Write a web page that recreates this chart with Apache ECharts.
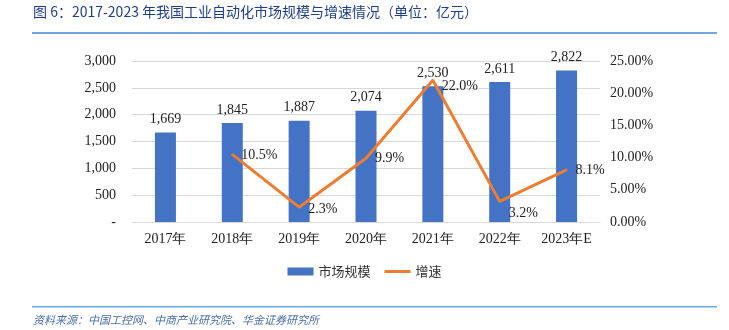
<!DOCTYPE html>
<html><head><meta charset="utf-8">
<script src="https://cdn.jsdelivr.net/npm/echarts@6/dist/echarts.min.js"></script>
<style>html,body{margin:0;padding:0;background:#fff}#c{width:729px;height:330px}</style>
</head><body><div id="c"></div>
<script>
const categories = ['2017年','2018年','2019年','2020年','2021年','2022年','2023年E'];
const marketSize = [1669, 1845, 1887, 2074, 2530, 2611, 2822];
const growth = [null, 10.5, 2.3, 9.9, 22.0, 3.2, 8.1];
const leftTicks = [0, 500, 1000, 1500, 2000, 2500, 3000];
const growthLabelOffsetY = [0, 1, 2, 0, 6, 12, 0];

const chart = echarts.init(document.getElementById('c'));
const serif = '"Liberation Serif", "Times New Roman", serif';
chart.setOption({
  animation: false,
  graphic: [
    {type:'text', left: 33, top: 5, style:{text:'图 6：2017-2023 年我国工业自动化市场规模与增速情况（单位：亿元）', font:'14px "Noto Sans CJK SC", sans-serif', fill:'#1f3f8a'}},
    {type:'rect', shape:{x:32, y:32, width:685, height:2}, style:{fill:'#6fa8dc'}},
    {type:'rect', shape:{x:32, y:306, width:685, height:1.5}, style:{fill:'#6fa8dc'}},
    {type:'text', left: 33, top: 314, style:{text:'资料来源：中国工控网、中商产业研究院、华金证券研究所', font:'italic 11px "Noto Sans CJK SC", sans-serif', fill:'#4a6ea8'}}
  ],
  grid: {left: 132, right: 129, top: 61, bottom: 108},
  legend: {
    bottom: 47, left: 'center', itemWidth: 26, itemHeight: 8, itemGap: 14,
    textStyle: {fontFamily: '"Noto Sans CJK SC", sans-serif', fontSize: 13, color: '#333'},
    data: [{name:'市场规模', icon:'rect'},
           {name:'增速', icon:'path://M0,0h26v3h-26z', itemStyle:{color:'#ed7d31', opacity:1}}]
  },
  xAxis: {
    type: 'category', data: categories,
    axisLine: {lineStyle: {color: '#d9d9d9'}}, axisTick: {show: false},
    axisLabel: {fontFamily: serif, fontSize: 14, color: '#222', margin: 10}
  },
  yAxis: [
    {type: 'value', min: 0, max: 3000, interval: 500,
     axisLine: {show: false}, axisTick: {show: false},
     splitLine: {lineStyle: {color: '#d9d9d9'}},
     axisLabel: {fontFamily: serif, fontSize: 14, color: '#222', margin: 16,
       formatter: v => v === 0 ? '-' : v.toLocaleString('en-US')}},
    {type: 'value', min: 0, max: 25, interval: 5,
     axisLine: {show: false}, axisTick: {show: false}, splitLine: {show: false},
     axisLabel: {fontFamily: serif, fontSize: 14, color: '#222', margin: 10,
       formatter: v => v.toFixed(2) + '%'}}
  ],
  series: [
    {name: '市场规模', type: 'bar', data: marketSize, barWidth: 21,
     itemStyle: {color: '#4472c4'},
     label: {show: true, position: 'top', distance: 6, fontFamily: serif, fontSize: 14, color: '#222',
       formatter: p => p.value.toLocaleString('en-US')}},
    {name: '增速', type: 'line', yAxisIndex: 1,
     data: growth.map((v, i) => ({value: v, label: {offset: [0, growthLabelOffsetY[i]]}})),
     symbol: 'circle', symbolSize: 2, showSymbol: true, showAllSymbol: true,
     lineStyle: {color: '#ed7d31', width: 3}, itemStyle: {color: '#ed7d31'},
     label: {show: true, position: 'right', distance: 8, fontFamily: serif, fontSize: 14, color: '#222',
       formatter: p => p.value == null ? '' : p.value.toFixed(1) + '%'}}
  ]
});
</script></body></html>
